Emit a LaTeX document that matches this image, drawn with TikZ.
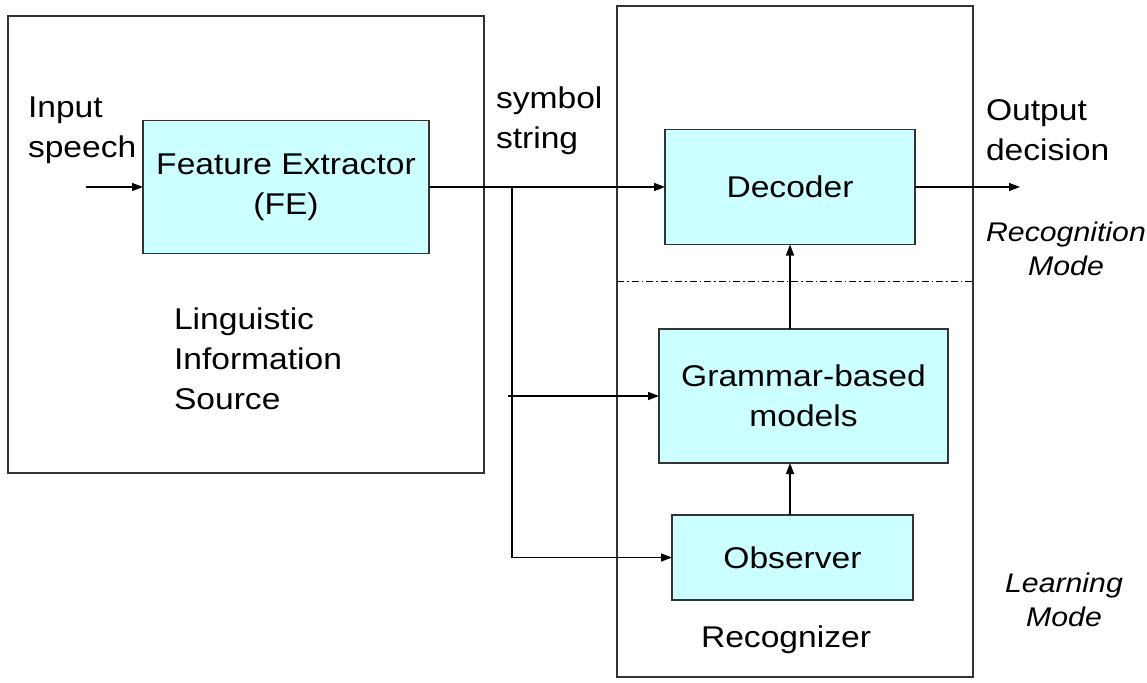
\documentclass[tikz,border=0pt]{standalone}
\usepackage{fontspec}
\setmainfont[FakeStretch=1.12]{Liberation Sans}
\usetikzlibrary{arrows.meta}
\definecolor{boxfill}{HTML}{CCFFFF}
\definecolor{boxline}{HTML}{333333}
\begin{document}
\begin{tikzpicture}[x=1pt,y=-1pt,
  font=\fontsize{30}{40}\selectfont,
  frame/.style={draw=boxline,line width=1.4pt,inner sep=0pt,outer sep=0pt},
  blk/.style={draw=boxline,fill=boxfill,line width=1.4pt,inner sep=0pt,outer sep=0pt,align=center},
  lbl/.style={inner sep=0pt,outer sep=0pt},
  arr/.style={line width=1.3pt,-{Triangle[length=11pt,width=8pt]}},
  dashdot/.style={line width=1pt,dash pattern=on 7pt off 3pt on 1.5pt off 3pt}]
\useasboundingbox (0,0) rectangle (1147,682);
% outer frames
\node[frame,minimum width=476pt,minimum height=457pt] (src) at (246,244.5) {};
\node[frame,minimum width=356pt,minimum height=671pt] (rec) at (795,341.5) {};
% blocks
\node[blk,minimum width=286pt,minimum height=133pt] (fe) at (286,187) {Feature Extractor\\(FE)};
\node[blk,minimum width=250pt,minimum height=115pt] (dec) at (790,187) {Decoder};
\node[blk,minimum width=289pt,minimum height=134pt] (gram) at (803.5,396) {Grammar-based\\models};
\node[blk,minimum width=241pt,minimum height=85pt] (obs) at (792.5,557.5) {Observer};
% labels
\node[lbl,anchor=west,align=left] (inp) at (28,130) {Input\\speech};
\node[lbl,anchor=west,align=left] (ling) at (174,359) {Linguistic\\Information\\Source};
\node[lbl,anchor=west,align=left] (sym) at (496,121) {symbol\\string};
\node[lbl,anchor=west,align=left] (outl) at (986,130) {Output\\decision};
\node[lbl,align=center,font=\fontsize{27}{34}\selectfont\itshape] (rm) at (1066,249) {Recognition\\Mode};
\node[lbl,align=center,font=\fontsize{27}{34}\selectfont\itshape] (lm) at (1064,600) {Learning\\Mode};
\node[lbl] (recl) at (786,640) {Recognizer};
% coordinates
\coordinate (in) at (86,187);
\coordinate (br) at (512,187);
\coordinate (gin) at (508,396);
\coordinate (out) at (1020,187);
\coordinate (dl) at (617,281);
\coordinate (dr) at (973,281);
% connectors
\draw[arr] (in) -- (fe.west);
\draw[arr] (fe.east) -- (dec.west);
\draw[arr] (br) |- (obs.west);
\draw[arr] (gin) -- (gram.west);
\draw[arr] (gram.north -| dec.south) -- (dec.south);
\draw[arr] (obs.north -| dec.south) -- (gram.south -| dec.south);
\draw[arr] (dec.east) -- (out);
\draw[dashdot] (dl) -- (dr);
\end{tikzpicture}
\end{document}
